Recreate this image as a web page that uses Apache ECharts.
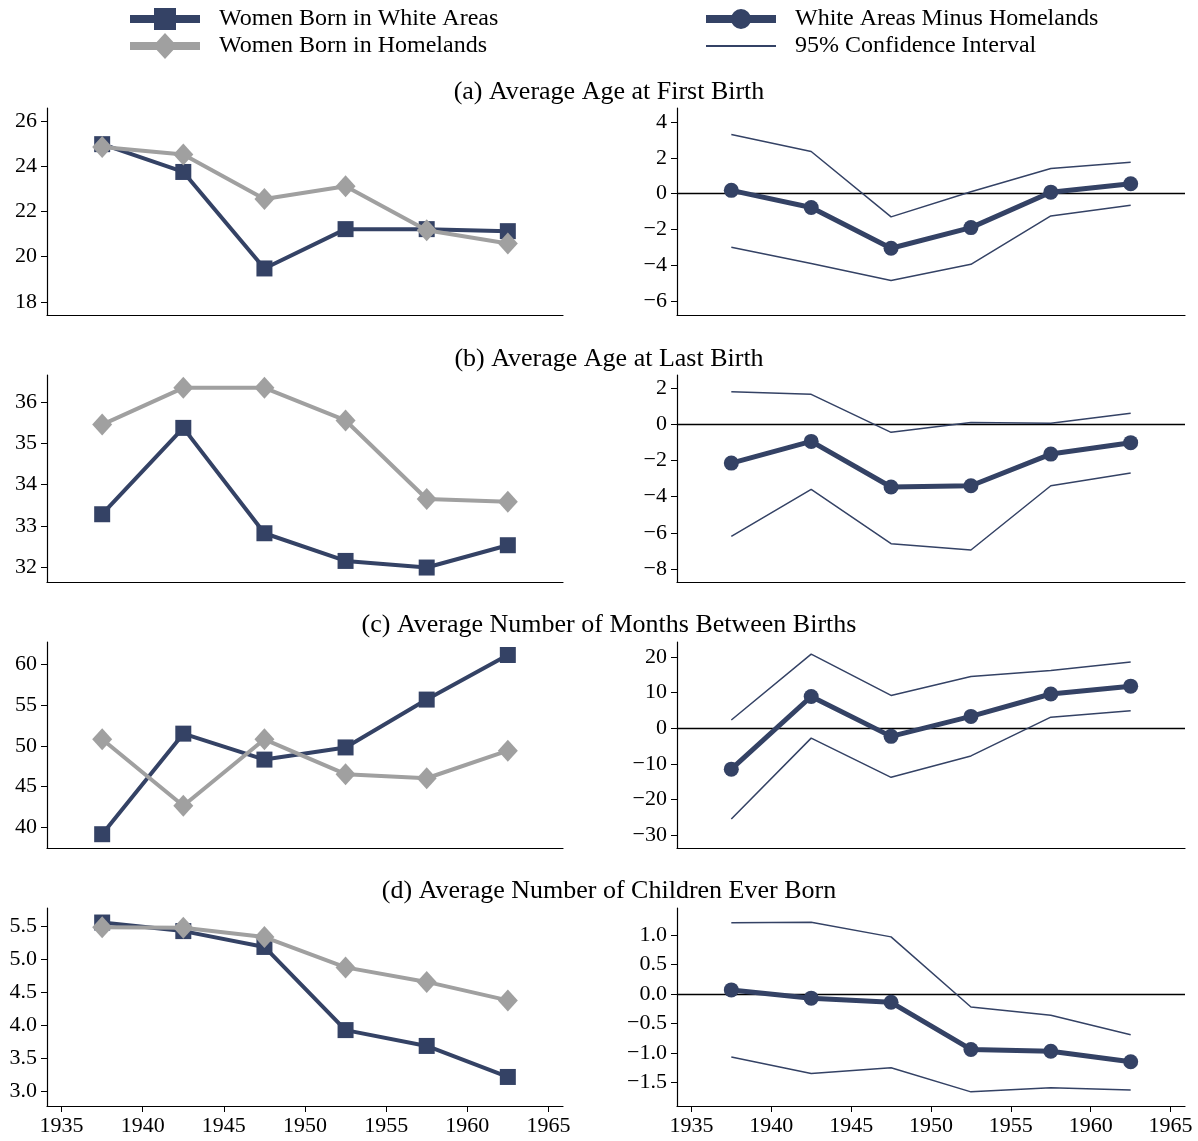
<!DOCTYPE html>
<html>
<head>
<meta charset="utf-8">
<script src="https://cdn.jsdelivr.net/npm/echarts@6/dist/echarts.min.js"></script>
<style>
  html, body { margin: 0; padding: 0; background: #fff; }
  #chart { width: 1198px; height: 1141px; }
</style>
</head>
<body>
<div id="chart"></div>
<script>
var cohorts = [1937.5, 1942.5, 1947.5, 1952.5, 1957.5, 1962.5];
var xTicks = [1935, 1940, 1945, 1950, 1955, 1960, 1965];

var panelTitles = [
    '(a) Average Age at First Birth',
    '(b) Average Age at Last Birth',
    '(c) Average Number of Months Between Births',
    '(d) Average Number of Children Ever Born'
];

// left column: levels by birthplace
var whiteFirst = [24.98, 23.75, 19.48, 21.22, 21.22, 21.13];
var homeFirst = [24.85, 24.52, 22.55, 23.12, 21.17, 20.58];
var whiteLast = [33.28, 35.37, 32.82, 32.15, 31.99, 32.53];
var homeLast = [35.45, 36.34, 36.34, 35.55, 33.65, 33.58];
var whiteSpacing = [39.1, 51.5, 48.3, 49.8, 55.7, 61.2];
var homeSpacing = [50.8, 42.6, 50.8, 46.5, 46.0, 49.4];
var whiteChildren = [5.55, 5.42, 5.18, 3.92, 3.68, 3.21];
var homeChildren = [5.48, 5.47, 5.33, 4.87, 4.65, 4.37];

// right column: difference and 95% CI
var diffFirst = [0.18, -0.78, -3.05, -1.9, 0.08, 0.55];
var upperFirst = [3.3, 2.35, -1.3, 0.1, 1.4, 1.75];
var lowerFirst = [-3.0, -3.9, -4.85, -3.95, -1.25, -0.65];
var diffLast = [-2.15, -0.95, -3.47, -3.4, -1.65, -1.02];
var upperLast = [1.8, 1.65, -0.45, 0.1, 0.05, 0.6];
var lowerLast = [-6.2, -3.6, -6.6, -6.95, -3.4, -2.7];
var diffSpacing = [-11.5, 8.9, -2.3, 3.3, 9.6, 11.8];
var upperSpacing = [2.3, 20.8, 9.2, 14.5, 16.2, 18.6];
var lowerSpacing = [-25.5, -2.8, -13.8, -7.8, 3.1, 4.9];
var diffChildren = [0.07, -0.07, -0.14, -0.94, -0.97, -1.15];
var upperChildren = [1.21, 1.22, 0.97, -0.22, -0.36, -0.69];
var lowerChildren = [-1.07, -1.35, -1.25, -1.66, -1.59, -1.63];

var leftTicks = [
    [18, 20, 22, 24, 26],
    [32, 33, 34, 35, 36],
    [40, 45, 50, 55, 60],
    [3.0, 3.5, 4.0, 4.5, 5.0, 5.5]
];
var rightTicks = [
    [-6, -4, -2, 0, 2, 4],
    [-8, -6, -4, -2, 0, 2],
    [-30, -20, -10, 0, 10, 20],
    [-1.5, -1.0, -0.5, 0.0, 0.5, 1.0]
];
var leftRange = [[17.42, 26.58], [31.64, 36.65], [37.4, 62.8], [2.77, 5.77]];
var rightRange = [[-6.78, 4.78], [-8.72, 2.72], [-33.65, 24.2], [-1.9, 1.46]];
var decimals = [0, 0, 0, 1];

var leftWhite = [whiteFirst, whiteLast, whiteSpacing, whiteChildren];
var leftHome = [homeFirst, homeLast, homeSpacing, homeChildren];
var rightDiff = [diffFirst, diffLast, diffSpacing, diffChildren];
var rightUpper = [upperFirst, upperLast, upperSpacing, upperChildren];
var rightLower = [lowerFirst, lowerLast, lowerSpacing, lowerChildren];

var navy = '#344265';
var grey = '#a0a0a0';
var font = 'Liberation Serif';

var rowTops = [108, 375, 642, 908];
var rowHeights = [207, 207, 206, 198];
var titleCenters = [92, 359, 625, 891];

// legend keys: thick line with marker, box 84 x 26
var box = 'M84,0L84,0M0,26L0,26';
var thickLine = 'M0,9L70,9L70,17L0,17Z';
var iconWhite = 'path://' + thickLine + 'M24,2L46,2L46,24L24,24Z' + box;
var iconHome = 'path://' + thickLine + 'M35,0L47,13L35,26L23,13Z' + box;
var iconDiff = 'path://' + thickLine + 'M25,13A10,10 0 1,1 45,13A10,10 0 1,1 25,13Z' + box;
var iconCI = 'path://M0,12L70,12L70,14L0,14Z' + box;

function pairs(vals) {
    return cohorts.map(function (x, i) { return [x, vals[i]]; });
}

function tickFormatter(dec) {
    return function (v) {
        return Number(v).toFixed(dec).replace('-', '\u2212');
    };
}

var grids = [], xAxes = [], yAxes = [], series = [], titles = [];

for (var r = 0; r < 4; r++) {
    titles.push({
        text: panelTitles[r],
        left: 609,
        top: titleCenters[r] - 13,
        padding: 0,
        textAlign: 'center',
        textStyle: { fontFamily: font, fontSize: 26, fontWeight: 'normal', color: '#000' }
    });
    var bottomRow = r === 3;
    for (var c = 0; c < 2; c++) {
        var idx = r * 2 + c;
        grids.push({
            left: c === 0 ? 47 : 677,
            top: rowTops[r],
            width: c === 0 ? 516 : 508,
            height: rowHeights[r]
        });
        xAxes.push({
            type: 'value',
            gridIndex: idx,
            min: 1934.1,
            max: 1965.9,
            splitLine: { show: false },
            axisLine: { show: true, onZero: false, lineStyle: { color: '#000', width: 1.2 } },
            axisTick: { show: bottomRow, customValues: xTicks, length: 6, lineStyle: { color: '#000' } },
            axisLabel: {
                show: bottomRow, customValues: xTicks, margin: 9,
                formatter: function (v) { return String(v); },
                fontFamily: font, fontSize: 22, color: '#000'
            }
        });
        var range = c === 0 ? leftRange[r] : rightRange[r];
        var ticks = c === 0 ? leftTicks[r] : rightTicks[r];
        yAxes.push({
            type: 'value',
            gridIndex: idx,
            min: range[0],
            max: range[1],
            splitLine: { show: false },
            axisLine: { show: true, onZero: false, lineStyle: { color: '#000', width: 1.2 } },
            axisTick: { show: true, customValues: ticks, length: 6, lineStyle: { color: '#000' } },
            axisLabel: {
                customValues: ticks, margin: 10, formatter: tickFormatter(decimals[r]),
                fontFamily: font, fontSize: 22, color: '#000'
            }
        });
        if (c === 0) {
            series.push({
                name: 'Women Born in White Areas',
                type: 'line',
                xAxisIndex: idx, yAxisIndex: idx,
                data: pairs(leftWhite[r]),
                symbol: 'rect', symbolSize: 16,
                lineStyle: { color: navy, width: 4 },
                itemStyle: { color: navy },
                z: 3
            });
            series.push({
                name: 'Women Born in Homelands',
                type: 'line',
                xAxisIndex: idx, yAxisIndex: idx,
                data: pairs(leftHome[r]),
                symbol: 'diamond', symbolSize: [20, 22],
                lineStyle: { color: grey, width: 4 },
                itemStyle: { color: grey },
                z: 4
            });
        } else {
            series.push({
                name: '95% Confidence Interval',
                type: 'line',
                xAxisIndex: idx, yAxisIndex: idx,
                data: pairs(rightUpper[r]),
                symbol: 'none',
                lineStyle: { color: navy, width: 1.5 },
                itemStyle: { color: navy }
            });
            series.push({
                name: '95% Confidence Interval',
                type: 'line',
                xAxisIndex: idx, yAxisIndex: idx,
                data: pairs(rightLower[r]),
                symbol: 'none',
                lineStyle: { color: navy, width: 1.5 },
                itemStyle: { color: navy }
            });
            series.push({
                name: 'White Areas Minus Homelands',
                type: 'line',
                xAxisIndex: idx, yAxisIndex: idx,
                data: pairs(rightDiff[r]),
                symbol: 'circle', symbolSize: 15,
                lineStyle: { color: navy, width: 5 },
                itemStyle: { color: navy },
                z: 3,
                markLine: {
                    silent: true,
                    symbol: 'none',
                    label: { show: false },
                    lineStyle: { color: '#000', width: 1.3, type: 'solid' },
                    data: [{ yAxis: 0 }],
                    z: 1
                }
            });
        }
    }
}

var legendText = { fontFamily: font, fontSize: 24, color: '#000' };

var option = {
    backgroundColor: '#fff',
    animation: false,
    title: titles,
    legend: [
        {
            left: 130, top: 6, orient: 'vertical', padding: 0,
            itemWidth: 84, itemHeight: 26, itemGap: 1,
            textStyle: legendText,
            data: [
                { name: 'Women Born in White Areas', icon: iconWhite },
                { name: 'Women Born in Homelands', icon: iconHome }
            ]
        },
        {
            left: 706, top: 6, orient: 'vertical', padding: 0,
            itemWidth: 84, itemHeight: 26, itemGap: 1,
            textStyle: legendText,
            data: [
                { name: 'White Areas Minus Homelands', icon: iconDiff },
                { name: '95% Confidence Interval', icon: iconCI }
            ]
        }
    ],
    grid: grids,
    xAxis: xAxes,
    yAxis: yAxes,
    series: series
};

var myChart = echarts.init(document.getElementById('chart'));
myChart.setOption(option);
window.addEventListener('resize', function () {
    myChart.resize();
});
</script>
</body>
</html>
